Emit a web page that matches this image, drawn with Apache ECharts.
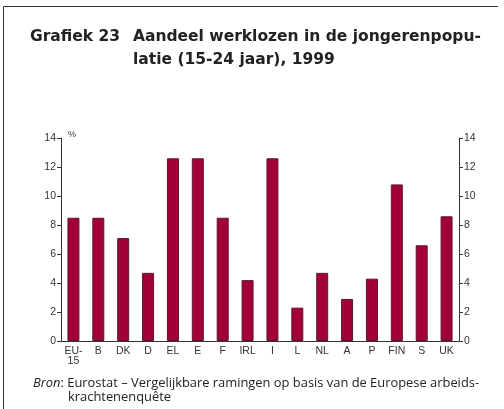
<!DOCTYPE html>
<html>
<head>
<meta charset="utf-8">
<script src="https://cdn.jsdelivr.net/npm/echarts@6/dist/echarts.min.js"></script>
<style>
  html, body { margin: 0; padding: 0; background: #fff; }
  #main { width: 504px; height: 409px; }
</style>
</head>
<body>
<div id="main"></div>
<script>
// landen en aandeel werklozen (%) 15-24 jaar, 1999
const landen = ['EU-\n15', 'B', 'DK', 'D', 'EL', 'E', 'F', 'IRL', 'I', 'L', 'NL', 'A', 'P', 'FIN', 'S', 'UK'];
const aandeel = [8.5, 8.5, 7.1, 4.7, 12.6, 12.6, 8.5, 4.2, 12.6, 2.3, 4.7, 2.9, 4.3, 10.8, 6.6, 8.6];
const yMax = 14;
const yStap = 2;

const myChart = echarts.init(document.getElementById('main'), null, { renderer: 'canvas' });

const asKleur = '#333';
const labelFont = { color: '#333', fontSize: 10.5, fontFamily: 'Liberation Sans' };

const yAs = (pos) => ({
    type: 'value',
    position: pos,
    min: 0,
    max: yMax,
    interval: yStap,
    axisLine: { show: true, lineStyle: { color: asKleur, width: 1 } },
    axisTick: { show: true, length: 4, lineStyle: { color: asKleur } },
    axisLabel: Object.assign({ margin: 5 }, labelFont),
    splitLine: { show: false }
});

const titelFont = 'bold 15.5px "DejaVu Sans"';
const voetFont = '12.9px "Open Sans"';

const option = {
    animation: false,
    grid: { left: 61, right: 45, top: 138, bottom: 68 },
    xAxis: {
        type: 'category',
        data: landen,
        axisLine: { lineStyle: { color: asKleur, width: 1 } },
        axisTick: { show: false },
        axisLabel: Object.assign({ margin: 5, lineHeight: 10, interval: 0 }, labelFont)
    },
    yAxis: [yAs('left'), yAs('right')],
    series: [{
        type: 'bar',
        data: aandeel,
        barWidth: 12,
        itemStyle: { color: '#a3003a', borderColor: '#5b1a2c', borderWidth: 1 }
    }],
    graphic: [
        // kader: links en boven
        {
            type: 'polyline',
            shape: { points: [[3.5, 409], [3.5, 6.5], [498, 6.5]] },
            style: { stroke: '#333', lineWidth: 1, fill: null }
        },
        {
            type: 'text', left: 30, top: 25,
            style: { text: 'Grafiek 23', font: titelFont, fill: '#222', lineHeight: 23 }
        },
        {
            type: 'text', left: 133, top: 25,
            style: { text: 'Aandeel werklozen in de jongerenpopu-\nlatie (15-24 jaar), 1999', font: titelFont, fill: '#222', lineHeight: 23 }
        },
        {
            type: 'text', left: 68, top: 130,
            style: { text: '%', font: '9px "Liberation Sans"', fill: '#333' }
        },
        {
            type: 'text', left: 33, top: 377,
            style: {
                text: '{i|Bron}: Eurostat – Vergelijkbare ramingen op basis van de Europese arbeids-',
                font: voetFont, fill: '#222',
                rich: { i: { fontStyle: 'italic', fontSize: 12.9, fontFamily: 'Open Sans' } }
            }
        },
        {
            type: 'text', left: 68, top: 391,
            style: { text: 'krachtenenquête', font: voetFont, fill: '#222' }
        }
    ]
};

myChart.setOption(option);
</script>
</body>
</html>
